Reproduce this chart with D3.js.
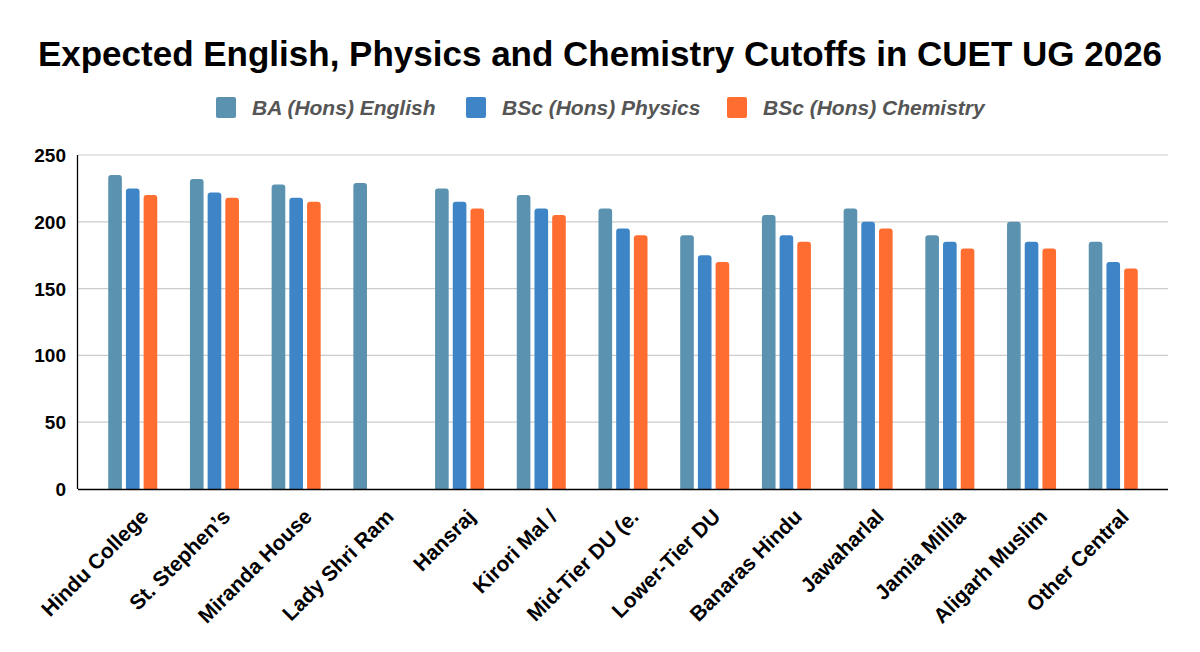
<!DOCTYPE html>
<html><head><meta charset="utf-8">
<script src="https://cdn.jsdelivr.net/npm/d3@7"></script>
<style>body{margin:0;background:#fff}svg{display:block}</style>
</head><body>
<svg id="c" width="1200" height="652"></svg>
<script>
const categories = ["Hindu College","St. Stephen’s","Miranda House","Lady Shri Ram","Hansraj","Kirori Mal /","Mid-Tier DU (e.","Lower-Tier DU","Banaras Hindu","Jawaharlal","Jamia Millia","Aligarh Muslim","Other Central"];
const seriesNames = ["BA (Hons) English","BSc (Hons) Physics","BSc (Hons) Chemistry"];
const english   = [235,232,228,229,225,220,210,190,205,210,190,200,185];
const physics   = [225,222,218,null,215,210,195,175,190,200,185,185,170];
const chemistry = [220,218,215,null,210,205,190,170,185,195,180,180,165];
const yTicks = [0,50,100,150,200,250];
const colors = ["#5A92AF","#3D85C6","#FF6D31"];

const svg = d3.select("#c");
const L=78, R=1168, T=155, B=489;
const FF = "Liberation Sans, Arial, sans-serif";
const x = d3.scaleBand().domain(categories).range([L,R]).paddingInner(0.4).paddingOuter(0.37);
const xs = d3.scaleBand().domain([0,1,2]).range([0,x.bandwidth()]).paddingInner(0.23);
const y = d3.scaleLinear().domain([0,250]).range([B,T]);

svg.append("text").attr("x",600).attr("y",66).attr("text-anchor","middle")
  .attr("font-family",FF).attr("font-weight","bold")
  .attr("font-size",35).attr("fill","#000").text("Expected English, Physics and Chemistry Cutoffs in CUET UG 2026");

// legend
const legX=[216,466,727];
seriesNames.forEach((n,i)=>{
  svg.append("rect").attr("x",legX[i]).attr("y",97).attr("width",20).attr("height",21).attr("rx",2).attr("fill",colors[i]);
  svg.append("text").attr("x",legX[i]+36).attr("y",115).attr("font-family",FF)
    .attr("font-weight","bold").attr("font-style","italic").attr("font-size",21).attr("fill","#555").text(n);
});

// grid
const g = svg.append("g");
g.selectAll("line.grid").data(yTicks.filter(d=>d>0)).join("line")
  .attr("x1",L).attr("x2",R).attr("y1",d=>y(d)).attr("y2",d=>y(d)).attr("stroke","#cccccc").attr("stroke-width",1.2);
g.selectAll("text.yt").data(yTicks).join("text")
  .attr("x",66).attr("y",d=>y(d)+7).attr("text-anchor","end")
  .attr("font-family",FF).attr("font-weight","bold").attr("font-size",19).attr("fill","#000").text(d=>d);

// bars
const data = [english,physics,chemistry];
function barPath(x0,w,yt,yb,r){
  r=Math.min(r,w/2,(yb-yt));
  return `M${x0},${yb}V${yt+r}Q${x0},${yt} ${x0+r},${yt}H${x0+w-r}Q${x0+w},${yt} ${x0+w},${yt+r}V${yb}Z`;
}
data.forEach((arr,si)=>{
  g.selectAll(null).data(arr.map((v,i)=>({v,c:categories[i]})).filter(d=>d.v!=null)).join("path")
    .attr("d",d=>barPath(x(d.c)+xs(si),xs.bandwidth(),y(d.v),y(0),3))
    .attr("fill",colors[si]);
});

// axes lines
svg.append("line").attr("x1",L).attr("x2",R).attr("y1",B+0.5).attr("y2",B+0.5).attr("stroke","#000").attr("stroke-width",1.3);
svg.append("line").attr("x1",L-0.5).attr("x2",L-0.5).attr("y1",T).attr("y2",B).attr("stroke","#000").attr("stroke-width",1.3);

// x labels
svg.selectAll("text.xl").data(categories).join("text")
  .attr("transform",d=>`translate(${x(d)+x.bandwidth()/2+17},${518}) rotate(-45)`)
  .attr("text-anchor","end").attr("font-family",FF)
  .attr("font-weight","bold").attr("font-size",21).attr("fill","#000").text(d=>d);
</script>
</body></html>
